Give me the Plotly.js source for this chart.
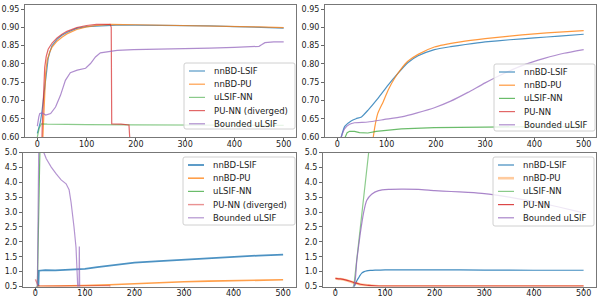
<!DOCTYPE html>
<html>
<head>
<meta charset="utf-8">
<script src="https://cdn.plot.ly/plotly-3.0.1.min.js"></script>
<style>html,body{margin:0;padding:0;background:#fff;}#chart{width:599px;height:298px;}</style>
</head>
<body>
<div id="chart"></div>
<script>
// ---------------- DATA ----------------
const xTicks = [0, 100, 200, 300, 400, 500];
const xTickLabels = ['0', '100', '200', '300', '400', '500'];
const yTicksTop = [0.60, 0.65, 0.70, 0.75, 0.80, 0.85, 0.90, 0.95];
const yTickLabelsTop = ['0.60', '0.65', '0.70', '0.75', '0.80', '0.85', '0.90', '0.95'];
const yTicksBottom = [0.5, 1.0, 1.5, 2.0, 2.5, 3.0, 3.5, 4.0, 4.5, 5.0];
const yTickLabelsBottom = ['0.5', '1.0', '1.5', '2.0', '2.5', '3.0', '3.5', '4.0', '4.5', '5.0'];

const namesDiverged = ['nnBD-LSIF', 'nnBD-PU', 'uLSIF-NN', 'PU-NN (diverged)', 'Bounded uLSIF'];
const namesPlain = ['nnBD-LSIF', 'nnBD-PU', 'uLSIF-NN', 'PU-NN', 'Bounded uLSIF'];

// Panel A (top-left)
const A_lsif_x = [0, 3, 6, 9, 12, 15, 18, 22, 26, 30, 40, 50, 60, 80, 100, 130, 160, 200, 250, 300, 350, 400, 450, 500];
const A_lsif_y = [0.61, 0.625, 0.64, 0.665, 0.70, 0.74, 0.78, 0.815, 0.835, 0.85, 0.867, 0.878, 0.886, 0.897, 0.902, 0.905, 0.906, 0.906, 0.906, 0.905, 0.904, 0.902, 0.900, 0.898];
const A_pu_x = [0, 9, 11, 12, 14, 17, 20, 25, 30, 40, 50, 60, 80, 100, 120, 150, 200, 250, 300, 350, 400, 450, 500];
const A_pu_y = [0.5, 0.55, 0.59, 0.63, 0.70, 0.775, 0.81, 0.832, 0.846, 0.862, 0.873, 0.882, 0.894, 0.901, 0.905, 0.908, 0.907, 0.906, 0.904, 0.903, 0.902, 0.901, 0.899];
const A_ulsif_x = [0, 2, 4, 6, 8, 20, 50, 100, 200, 300, 400, 500];
const A_ulsif_y = [0.60, 0.615, 0.625, 0.63, 0.636, 0.635, 0.634, 0.634, 0.633, 0.633, 0.633, 0.632];
const A_punn_x = [0, 9, 10, 12, 15, 18, 22, 30, 40, 50, 60, 80, 100, 120, 148, 150, 151, 170, 186, 187.5, 189];
const A_punn_y = [0.5, 0.56, 0.63, 0.72, 0.79, 0.82, 0.84, 0.857, 0.871, 0.881, 0.889, 0.899, 0.905, 0.908, 0.908, 0.90, 0.636, 0.635, 0.633, 0.60, 0.5];
const A_bnd_x = [0, 1, 3, 5, 10, 17, 27, 37, 47, 57, 67, 81, 98, 108, 118, 128, 141, 162, 195, 250, 300, 350, 400, 440, 450, 455, 462, 480, 500];
const A_bnd_y = [0.63, 0.64, 0.655, 0.664, 0.666, 0.66, 0.664, 0.682, 0.714, 0.755, 0.776, 0.783, 0.788, 0.801, 0.819, 0.83, 0.833, 0.837, 0.839, 0.84, 0.841, 0.843, 0.845, 0.847, 0.848, 0.852, 0.858, 0.86, 0.86];

// Panel B (top-right)
const B_lsif_x = [0, 8, 15, 28, 38, 49, 62, 82, 103, 123, 143, 164, 197, 230, 260, 300, 350, 400, 450, 500];
const B_lsif_y = [0.55, 0.60, 0.629, 0.644, 0.65, 0.655, 0.673, 0.705, 0.742, 0.774, 0.803, 0.822, 0.839, 0.847, 0.853, 0.86, 0.866, 0.871, 0.876, 0.881];
const B_pu_x = [0, 40, 70, 73, 76, 82, 93, 103, 116, 130, 143, 164, 197, 250, 300, 350, 400, 450, 500];
const B_pu_y = [0.45, 0.5, 0.58, 0.60, 0.627, 0.664, 0.696, 0.728, 0.76, 0.787, 0.807, 0.826, 0.846, 0.86, 0.869, 0.876, 0.882, 0.887, 0.891];
const B_ulsif_x = [0, 15, 20, 25, 35, 45, 62, 79, 103, 130, 197, 265, 300, 400, 500];
const B_ulsif_y = [0.55, 0.60, 0.612, 0.6155, 0.6155, 0.612, 0.611, 0.6155, 0.618, 0.622, 0.6256, 0.627, 0.627, 0.628, 0.628];
const B_punn_x = [0, 500];
const B_punn_y = [0.5, 0.5];
const B_bnd_x = [0, 8, 15, 25, 35, 62, 96, 130, 162, 197, 230, 265, 300, 340, 380, 420, 460, 500];
const B_bnd_y = [0.55, 0.60, 0.623, 0.635, 0.639, 0.641, 0.648, 0.655, 0.666, 0.68, 0.698, 0.722, 0.748, 0.775, 0.798, 0.815, 0.829, 0.839];

// Panel C (bottom-left)
const C_lsif_x = [0, 6, 7, 20, 40, 60, 80, 100, 125, 150, 175, 200, 250, 300, 350, 400, 450, 500];
const C_lsif_y = [0.45, 0.5, 1.03, 1.05, 1.04, 1.05, 1.06, 1.09, 1.15, 1.2, 1.25, 1.3, 1.35, 1.4, 1.45, 1.5, 1.54, 1.57];
const C_pu_x = [0, 5, 10, 50, 100, 150, 200, 250, 300, 350, 400, 450, 500];
const C_pu_y = [0.45, 0.5, 0.505, 0.51, 0.53, 0.56, 0.6, 0.63, 0.66, 0.68, 0.7, 0.715, 0.725];
const C_ulsif_x = [0, 4, 9, 12, 500];
const C_ulsif_y = [0.4, 0.5, 5.0, 7.0, 7.0];
const C_punn_x = [0, 3, 5, 8, 20, 50, 100, 130, 150, 152];
const C_punn_y = [0.74, 0.62, 0.55, 0.52, 0.51, 0.51, 0.52, 0.525, 0.53, 0.3];
const C_bnd_x = [0, 4, 7, 10, 14, 17, 22, 32, 42, 52, 62, 68, 72, 75, 78, 82, 84, 86, 88, 88.7, 89.5, 91, 500];
const C_bnd_y = [0.4, 0.5, 5.5, 6.5, 5.6, 5.0, 4.79, 4.51, 4.28, 4.08, 3.95, 3.75, 3.33, 2.94, 2.49, 1.82, 0.55, 0.3, 0.3, 1.84, 0.3, 0.2, 0.2];

// Panel D (bottom-right)
const D_lsif_x = [0, 36, 40, 44, 47, 50, 53, 58, 63, 70, 80, 100, 150, 200, 300, 400, 500];
const D_lsif_y = [0.3, 0.45, 0.58, 0.72, 0.8, 0.88, 0.95, 1.0, 1.025, 1.04, 1.05, 1.055, 1.06, 1.06, 1.05, 1.045, 1.045];
const D_pu_x = [0, 10, 20, 30, 40, 50, 60, 80, 100, 200, 300, 400, 500];
const D_pu_y = [0.77, 0.75, 0.72, 0.67, 0.615, 0.57, 0.545, 0.515, 0.507, 0.505, 0.505, 0.505, 0.505];
const D_ulsif_x = [0, 37, 67, 80];
const D_ulsif_y = [0.2, 0.5, 5.0, 7.0];
const D_punn_x = [0, 10, 20, 30, 40, 50, 60, 67, 80, 100, 150, 200, 300, 400, 500];
const D_punn_y = [0.775, 0.755, 0.725, 0.675, 0.62, 0.575, 0.55, 0.535, 0.52, 0.512, 0.51, 0.51, 0.51, 0.51, 0.51];
const D_bnd_x = [0, 37, 43, 50, 57, 63, 73, 87, 107, 133, 167, 200, 233, 267, 300, 350, 400, 450, 500];
const D_bnd_y = [0.2, 0.5, 1.37, 2.27, 3.0, 3.39, 3.6, 3.72, 3.76, 3.77, 3.76, 3.72, 3.69, 3.66, 3.62, 3.5, 3.35, 3.17, 2.97];

// ---------------- STYLE ----------------
const W = 599, H = 298;
const colors = ['#1f77b4', '#ff7f0e', '#2ca02c', '#d62728', '#9467bd'];
const FONT = 'DejaVu Sans, sans-serif';
const px = v => v / W;
const py = v => 1 - v / H;

const panels = [
  { id: '', dom: [25, 296, 5, 137], yr: [0.6, 0.961], yt: yTicksTop, ytl: yTickLabelsTop,
    names: namesDiverged,
    xs: [A_lsif_x, A_pu_x, A_ulsif_x, A_punn_x, A_bnd_x], ys: [A_lsif_y, A_pu_y, A_ulsif_y, A_punn_y, A_bnd_y],
    widths: [1.2, 1.2, 1.2, 1.2, 1.2], opac: [0.75, 0.75, 0.55, 0.7, 0.75], shape: 'linear',
    leg: [184, 63, 295, 129] },
  { id: '2', dom: [325, 596, 5, 137], yr: [0.6, 0.961], yt: yTicksTop, ytl: yTickLabelsTop,
    names: namesPlain,
    xs: [B_lsif_x, B_pu_x, B_ulsif_x, B_punn_x, B_bnd_x], ys: [B_lsif_y, B_pu_y, B_ulsif_y, B_punn_y, B_bnd_y],
    widths: [1.2, 1.2, 1.2, 1.2, 1.2], opac: [0.8, 0.8, 0.7, 0.7, 0.75], shape: 'spline',
    leg: [494, 64, 595, 131] },
  { id: '3', dom: [23, 295.5, 152.5, 286.5], yr: [0.5, 5.0], yt: yTicksBottom, ytl: yTickLabelsBottom,
    names: namesDiverged,
    xs: [C_lsif_x, C_pu_x, C_ulsif_x, C_punn_x, C_bnd_x], ys: [C_lsif_y, C_pu_y, C_ulsif_y, C_punn_y, C_bnd_y],
    widths: [1.8, 1.6, 1.2, 1.4, 1.2], opac: [0.8, 0.75, 0.7, 0.5, 0.7], shape: 'linear',
    leg: [183, 157, 295, 225] },
  { id: '4', dom: [323, 596, 152.5, 286.5], yr: [0.5, 5.0], yt: yTicksBottom, ytl: yTickLabelsBottom,
    names: namesPlain,
    xs: [D_lsif_x, D_pu_x, D_ulsif_x, D_punn_x, D_bnd_x], ys: [D_lsif_y, D_pu_y, D_ulsif_y, D_punn_y, D_bnd_y],
    widths: [1.2, 2.6, 1.2, 1.2, 1.2], opac: [0.85, 0.4, 0.55, 0.85, 0.8], shape: 'spline',
    leg: [493, 157, 594, 226] }
];

const traces = [];
const shapes = [];
const annotations = [];
const layout = {
  width: W, height: H,
  margin: { l: 0, r: 0, t: 0, b: 0 },
  paper_bgcolor: '#ffffff', plot_bgcolor: '#ffffff',
  showlegend: false,
  font: { family: FONT, size: 8, color: '#222' }
};

panels.forEach(p => {
  const xa = 'x' + p.id, ya = 'y' + p.id;
  layout['xaxis' + p.id] = {
    domain: [px(p.dom[0]), px(p.dom[1])], anchor: ya, range: [-25, 525],
    tickmode: 'array', tickvals: xTicks, ticktext: xTickLabels,
    ticks: 'outside', ticklen: 3, tickwidth: 1, tickcolor: '#666',
    ticklabelstandoff: -4,
    showline: true, linecolor: '#777', linewidth: 1, mirror: true,
    showgrid: false, zeroline: false,
    tickfont: { family: FONT, size: 8, color: '#222' }
  };
  layout['yaxis' + p.id] = {
    domain: [py(p.dom[3]), py(p.dom[2])], anchor: xa, range: p.yr,
    tickmode: 'array', tickvals: p.yt, ticktext: p.ytl,
    ticks: 'outside', ticklen: 3, tickwidth: 1, tickcolor: '#666',
    showline: true, linecolor: '#777', linewidth: 1, mirror: true,
    showgrid: false, zeroline: false,
    tickfont: { family: FONT, size: 8, color: '#222' }
  };
  for (let i = 0; i < 5; i++) {
    traces.push({
      type: 'scatter', mode: 'lines', x: p.xs[i], y: p.ys[i], name: p.names[i],
      xaxis: xa, yaxis: ya, opacity: p.opac[i],
      line: { color: colors[i], width: p.widths[i], shape: (p.shape === 'spline' && i !== 2) ? 'spline' : 'linear', smoothing: 0.5 },
      hoverinfo: 'skip'
    });
  }
  // manual matplotlib-style legend
  const [l, t, r, b] = p.leg;
  const rad = 2;
  const path = `M ${px(l + rad)} ${py(t)} L ${px(r - rad)} ${py(t)} Q ${px(r)} ${py(t)} ${px(r)} ${py(t + rad)} ` +
    `L ${px(r)} ${py(b - rad)} Q ${px(r)} ${py(b)} ${px(r - rad)} ${py(b)} L ${px(l + rad)} ${py(b)} ` +
    `Q ${px(l)} ${py(b)} ${px(l)} ${py(b - rad)} L ${px(l)} ${py(t + rad)} Q ${px(l)} ${py(t)} ${px(l + rad)} ${py(t)} Z`;
  shapes.push({ type: 'path', xref: 'paper', yref: 'paper', path: path,
    fillcolor: 'rgba(255,255,255,0.8)', line: { color: '#d0d0d0', width: 1 }, layer: 'above' });
  for (let i = 0; i < 5; i++) {
    const yy = t + 8 + i * 13.2;
    shapes.push({ type: 'line', xref: 'paper', yref: 'paper', x0: px(l + 5), x1: px(l + 21), y0: py(yy), y1: py(yy),
      line: { color: colors[i], width: p.widths[i] }, opacity: p.opac[i], layer: 'above' });
    annotations.push({ xref: 'paper', yref: 'paper', x: px(l + 27.5), y: py(yy), xanchor: 'left', yanchor: 'middle',
      text: p.names[i], showarrow: false, font: { family: FONT, size: 8.5, color: '#222' } });
  }
});
layout.shapes = shapes;
layout.annotations = annotations;

Plotly.newPlot('chart', traces, layout, { staticPlot: true, displayModeBar: false });
</script>
</body>
</html>
